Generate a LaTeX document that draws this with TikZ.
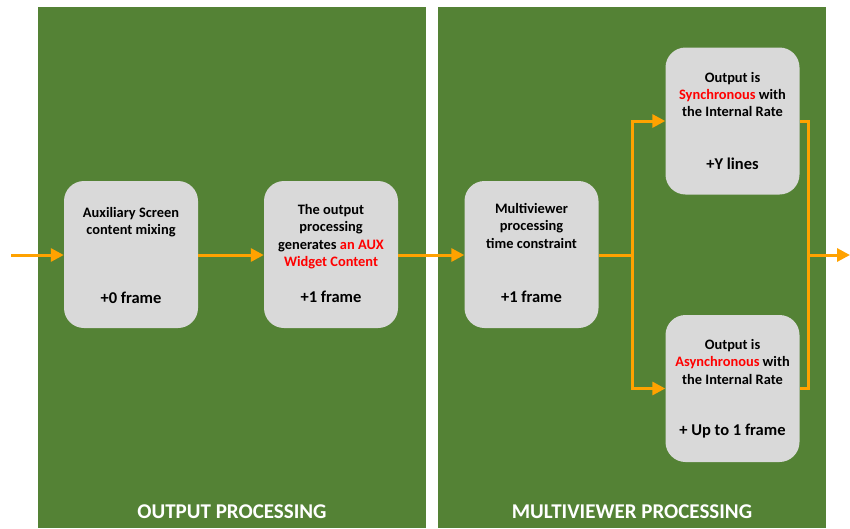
\documentclass[tikz,border=0pt]{standalone}
\usepackage{fontspec}
\setmainfont{Carlito}
\usetikzlibrary{arrows.meta}
\definecolor{panelgreen}{HTML}{548235}
\definecolor{boxgray}{HTML}{D9D9D9}
\definecolor{flow}{HTML}{FFA200}
\definecolor{hot}{HTML}{FF0000}
\tikzset{
  panel/.style={fill=panelgreen,draw=none},
  stagebox/.style={fill=boxgray,draw=none,rounded corners=20pt,minimum width=134pt,minimum height=147pt,inner sep=0pt},
  desc/.style={anchor=north,align=center,font=\fontsize{14.4}{17.2}\selectfont\bfseries,inner sep=0pt,text=black},
  delay/.style={anchor=center,font=\fontsize{16.5}{20}\selectfont\bfseries,inner sep=0pt,text=black},
  title/.style={font=\fontsize{21}{25}\selectfont\bfseries,text=white,inner sep=0pt},
  flowline/.style={draw=flow,line width=3pt},
  flowarrow/.style={flowline,-{Triangle[length=13pt,width=13pt]}}
}
\begin{document}
\begin{tikzpicture}[x=1pt,y=-1pt]
\useasboundingbox (0,0) rectangle (850,528);
% panels
\fill[panel] (38,7) rectangle (426,528);
\fill[panel] (438,7) rectangle (826,528);
\node[title] (t1) at (232,512) {OUTPUT PROCESSING};
\node[title] (t2) at (632,512) {MULTIVIEWER PROCESSING};
% boxes
\node[stagebox] (b1) at (131,254.5) {};
\node[stagebox] (b2) at (331,254.5) {};
\node[stagebox] (b3) at (531.5,254.5) {};
\node[stagebox] (b4) at (732.5,121) {};
\node[stagebox] (b5) at (732.5,388.5) {};
% texts
\node[desc] (d1) at ([yshift=-26pt]b1.north) {Auxiliary Screen\\content mixing};
\node[delay] (f1) at ([yshift=-117pt]b1.north) {+0 frame};
\node[desc] (d2) at ([yshift=-23.5pt]b2.north) {The output\\processing\\generates \textcolor{hot}{an AUX}\\\textcolor{hot}{Widget Content}};
\node[delay] (f2) at ([yshift=-116pt]b2.north) {+1 frame};
\node[desc] (d3) at ([yshift=-22.5pt]b3.north) {Multiviewer\\processing\\time constraint};
\node[delay] (f3) at ([yshift=-116pt]b3.north) {+1 frame};
\node[desc] (d4) at ([yshift=-24.5pt]b4.north) {Output is\\\textcolor{hot}{Synchronous} with\\the Internal Rate};
\node[delay] (f4) at ([yshift=-116pt]b4.north) {+Y lines};
\node[desc] (d5) at ([yshift=-24.5pt]b5.north) {Output is\\\textcolor{hot}{Asynchronous} with\\the Internal Rate};
\node[delay] (f5) at ([yshift=-116pt]b5.north) {+ Up to 1 frame};
% connectors
\coordinate (in) at (11,255);
\coordinate (sp) at (632,255);
\coordinate (mg) at (808,255);
\coordinate (out) at (850,255);
\draw[flowarrow] (in) -- (b1.west |- in);
\draw[flowarrow] (b1.east |- in) -- (b2.west |- in);
\draw[flowarrow] (b2.east |- in) -- (b3.west |- in);
\draw[flowline] (b3.east |- in) -- (sp);
\draw[flowarrow] (sp) |- (b4.west);
\draw[flowarrow] (sp) |- (b5.west);
\draw[flowline] (b4.east) -| (mg) |- (b5.east);
\draw[flowarrow] (mg) -- (out);
\end{tikzpicture}
\end{document}
